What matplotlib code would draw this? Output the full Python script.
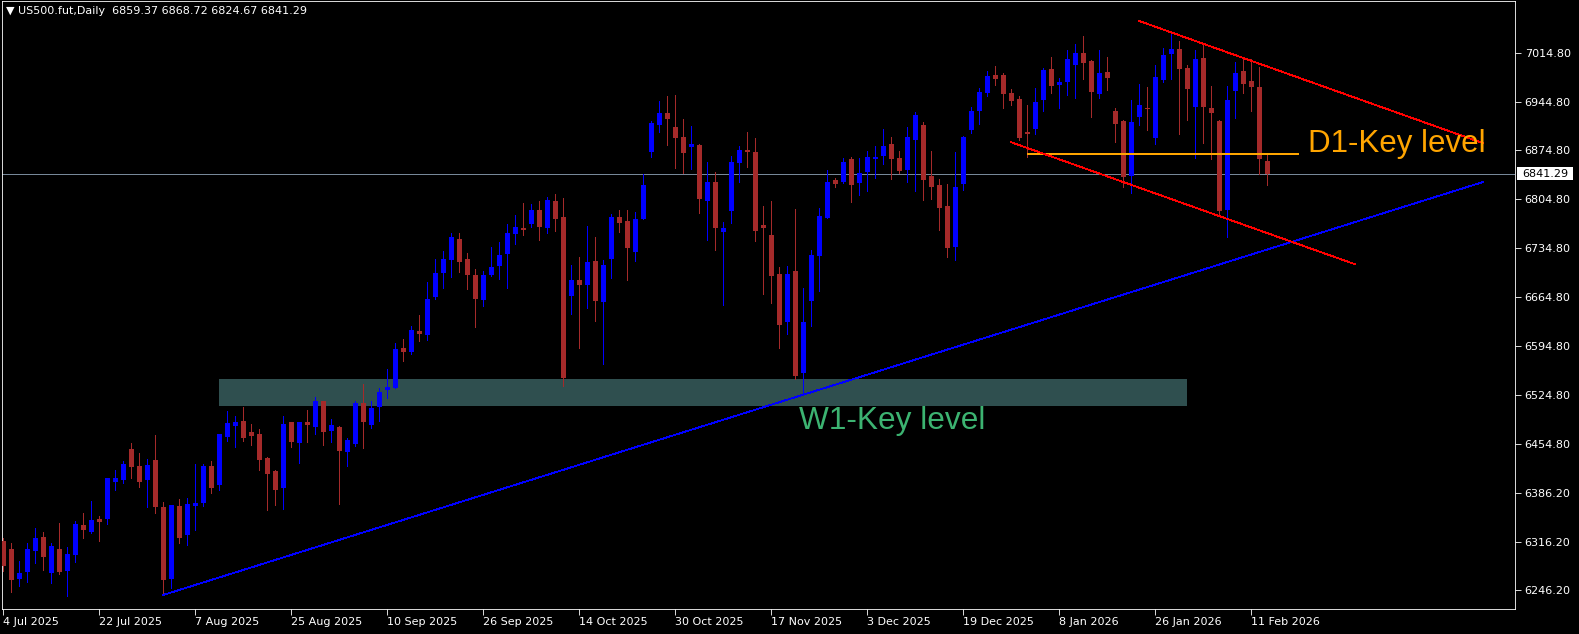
import numpy as np
import matplotlib.pyplot as plt
import matplotlib.transforms as mtransforms
from matplotlib.patches import Rectangle

plt.rcParams["font.family"] = ["DejaVu Sans"]

# US500.fut daily bars, 4 Jul 2025 .. 13 Feb 2026
opens = [
    6315.7, 6304.2, 6261.3, 6271.8, 6301.3, 6321.4, 6269.9, 6304.2, 6272.7, 6295.6,
    6338.6, 6329.0, 6347.2, 6346.7, 6400.6, 6403.5, 6447.4, 6423.0, 6403.5, 6431.6,
    6364.3, 6261.7, 6365.8, 6324.7, 6366.2, 6370.5, 6423.0, 6395.8, 6465.0, 6480.8,
    6487.4, 6471.7, 6468.8, 6434.5, 6415.9, 6392.0, 6486.0, 6456.4, 6486.0, 6479.3,
    6516.1, 6473.6, 6478.9, 6443.5, 6455.0, 6513.2, 6482.2, 6507.0, 6532.3, 6535.2,
    6591.9, 6586.7, 6616.3, 6610.5, 6664.9, 6699.3, 6718.4, 6748.0, 6719.3, 6696.4,
    6661.1, 6696.4, 6709.8, 6727.0, 6755.6, 6763.7, 6769.9, 6789.5, 6764.2, 6802.4,
    6779.5, 6666.9, 6689.3, 6682.6, 6716.5, 6658.3, 6719.3, 6779.5, 6773.7, 6729.8,
    6776.6, 6873.0, 6911.6, 6928.3, 6908.3, 6894.0, 6880.2, 6882.5, 6802.8, 6829.6,
    6758.5, 6788.5, 6857.2, 6875.4, 6872.5, 6768.0, 6753.7, 6697.9, 6629.6, 6702.2,
    6556.6, 6659.7, 6724.1, 6778.5, 6832.4, 6830.0, 6862.5, 6828.6, 6844.4, 6863.0,
    6867.3, 6884.0, 6863.9, 6847.2, 6890.2, 6911.2, 6838.2, 6825.3, 6795.2, 6737.0,
    6827.2, 6904.5, 6931.7, 6957.4, 6982.7, 6982.7, 6957.0, 6948.4, 6901.1, 6905.9,
    6947.4, 6991.3, 6968.9, 6973.2, 6997.5, 7014.2, 7002.8, 6956.0, 6987.0, 6931.2,
    6916.9, 6838.6, 6923.1, 6935.5, 6893.0, 6976.1, 7012.8, 7020.0, 6992.8, 6937.4,
    7007.1, 6935.5, 6916.9, 6790.0, 6960.3, 6988.5, 6974.1, 6965.6, 6859.37,
]
highs = [
    6319.5, 6312.8, 6287.0, 6312.8, 6334.7, 6328.5, 6312.8, 6341.4, 6307.1, 6344.3,
    6355.7, 6372.9, 6351.0, 6405.8, 6417.3, 6430.2, 6456.0, 6441.6, 6433.0, 6467.4,
    6371.5, 6367.2, 6375.8, 6377.2, 6425.9, 6425.9, 6430.2, 6468.8, 6501.8, 6494.6,
    6507.5, 6483.1, 6476.0, 6435.9, 6417.3, 6494.6, 6486.0, 6486.0, 6503.2, 6521.8,
    6516.1, 6490.3, 6480.3, 6463.1, 6516.1, 6540.4, 6516.1, 6534.7, 6561.9, 6599.1,
    6604.8, 6623.4, 6639.2, 6686.9, 6719.3, 6730.8, 6756.6, 6756.6, 6727.9, 6705.0,
    6702.2, 6736.5, 6743.7, 6769.4, 6782.3, 6799.5, 6798.1, 6802.4, 6808.1, 6812.4,
    6806.7, 6710.8, 6722.2, 6767.1, 6751.3, 6717.9, 6783.8, 6789.5, 6789.5, 6786.6,
    6841.0, 6916.9, 6945.5, 6952.7, 6954.1, 6919.8, 6909.7, 6884.0, 6858.2, 6843.9,
    6772.3, 6866.8, 6881.1, 6901.1, 6892.6, 6795.2, 6802.4, 6707.9, 6709.3, 6790.9,
    6677.8, 6732.2, 6792.4, 6846.7, 6835.3, 6863.9, 6865.4, 6863.9, 6873.9, 6881.1,
    6905.4, 6894.0, 6873.9, 6908.3, 6930.2, 6915.5, 6873.9, 6833.9, 6826.7, 6872.5,
    6895.4, 6937.0, 6964.1, 6988.5, 6995.6, 6985.6, 6962.7, 6952.7, 6939.8, 6964.1,
    6992.8, 7008.5, 6978.4, 7018.5, 7027.1, 7038.6, 7004.2, 7018.5, 7008.5, 6935.5,
    6918.3, 6946.9, 6969.9, 6965.6, 6997.0, 7021.4, 7042.9, 7031.4, 6997.0, 7018.5,
    7027.1, 6967.0, 6918.0, 6967.0, 7001.3, 7008.5, 7005.6, 6994.2, 6868.72,
]
lows = [
    6273.2, 6243.1, 6251.7, 6257.4, 6284.2, 6274.6, 6255.5, 6268.4, 6237.4, 6286.1,
    6320.4, 6327.1, 6316.1, 6340.5, 6389.1, 6399.2, 6406.3, 6393.4, 6364.3, 6356.2,
    6238.4, 6248.9, 6313.3, 6310.4, 6331.9, 6366.2, 6384.9, 6389.1, 6458.8, 6450.7,
    6459.3, 6453.6, 6417.8, 6360.5, 6367.7, 6361.9, 6450.7, 6427.8, 6457.9, 6469.3,
    6453.6, 6457.9, 6369.1, 6423.5, 6452.1, 6449.3, 6477.9, 6487.9, 6520.8, 6535.2,
    6573.8, 6583.8, 6602.4, 6603.9, 6662.1, 6678.3, 6694.1, 6701.2, 6676.9, 6622.5,
    6652.5, 6695.5, 6691.2, 6678.3, 6741.3, 6754.2, 6765.6, 6747.0, 6757.0, 6759.9,
    6538.0, 6641.1, 6592.4, 6649.7, 6631.1, 6569.5, 6692.6, 6758.5, 6689.8, 6717.0,
    6776.6, 6865.8, 6901.6, 6883.0, 6850.1, 6842.9, 6848.7, 6785.7, 6747.0, 6732.7,
    6654.0, 6771.4, 6830.0, 6851.5, 6745.6, 6669.7, 6656.8, 6592.4, 6612.5, 6547.6,
    6525.1, 6623.9, 6674.0, 6778.5, 6822.9, 6828.6, 6801.4, 6811.4, 6817.2, 6835.8,
    6855.8, 6834.3, 6842.9, 6830.0, 6817.2, 6804.3, 6805.7, 6761.3, 6722.7, 6718.4,
    6818.6, 6900.2, 6913.1, 6953.2, 6968.9, 6936.0, 6940.3, 6890.2, 6865.8, 6898.8,
    6931.7, 6957.4, 6936.0, 6954.6, 6950.3, 6977.5, 6923.1, 6950.3, 6961.7, 6887.3,
    6822.9, 6814.3, 6911.6, 6904.5, 6884.4, 6973.2, 6977.5, 6898.8, 6918.8, 6864.4,
    6885.9, 6863.0, 6782.8, 6751.3, 6921.7, 6957.4, 6931.7, 6841.5, 6824.67,
]
closes = [
    6280.4, 6260.3, 6269.9, 6304.2, 6320.4, 6293.2, 6308.5, 6271.3, 6297.1, 6340.0,
    6331.9, 6346.2, 6343.3, 6405.8, 6405.8, 6425.9, 6422.1, 6400.6, 6424.5, 6364.8,
    6260.3, 6367.2, 6320.4, 6368.6, 6370.1, 6423.0, 6392.0, 6468.8, 6484.6, 6486.0,
    6463.6, 6466.4, 6432.1, 6412.0, 6389.1, 6483.1, 6457.9, 6486.0, 6482.2, 6516.1,
    6472.2, 6481.7, 6445.0, 6460.2, 6513.2, 6486.5, 6506.1, 6529.0, 6536.1, 6590.5,
    6586.7, 6617.7, 6612.5, 6662.1, 6699.3, 6719.3, 6750.8, 6715.5, 6696.9, 6662.6,
    6696.4, 6707.9, 6725.1, 6756.6, 6765.2, 6761.3, 6789.5, 6765.6, 6803.8, 6777.1,
    6549.5, 6689.3, 6682.6, 6715.1, 6659.7, 6710.8, 6779.5, 6771.4, 6735.6, 6776.6,
    6825.3, 6914.0, 6928.3, 6920.2, 6893.0, 6871.6, 6884.0, 6805.7, 6829.6, 6764.2,
    6763.7, 6858.2, 6875.4, 6873.0, 6759.9, 6764.2, 6695.5, 6625.3, 6697.9, 6552.3,
    6629.2, 6725.1, 6780.9, 6829.6, 6827.2, 6858.2, 6825.8, 6842.5, 6865.4, 6865.4,
    6881.1, 6863.0, 6845.8, 6894.0, 6925.5, 6832.9, 6822.9, 6792.8, 6735.6, 6822.4,
    6894.0, 6931.2, 6958.4, 6981.3, 6977.5, 6956.0, 6946.0, 6893.0, 6898.8, 6944.1,
    6989.9, 6967.5, 6972.7, 7005.6, 7014.2, 7000.4, 6958.9, 6985.6, 6978.9, 6913.1,
    6837.2, 6915.5, 6939.8, 6934.5, 6979.9, 7011.4, 7020.0, 6991.8, 6963.2, 7005.6,
    6937.4, 6928.8, 6788.5, 6946.9, 6985.6, 6970.3, 6966.0, 6863.0, 6841.29,
]

# a date label every 12 bars
date_labels = ["4 Jul 2025", "22 Jul 2025", "7 Aug 2025", "25 Aug 2025", "10 Sep 2025",
               "26 Sep 2025", "14 Oct 2025", "30 Oct 2025", "17 Nov 2025", "3 Dec 2025",
               "19 Dec 2025", "8 Jan 2026", "26 Jan 2026", "11 Feb 2026"]

price_ticks = [7014.8, 6944.8, 6874.8, 6804.8, 6734.8, 6664.8, 6594.8, 6524.8,
               6454.8, 6384.8, 6314.8, 6244.8]
price_tick_labels = ["7014.80", "6944.80", "6874.80", "6804.80", "6734.80", "6664.80",
                     "6594.80", "6524.80", "6454.80", "6386.20", "6316.20", "6246.20"]

# objects drawn on the chart: (bar index, price)
w1_zone = [27, 148, 6509.3, 6547.6]        # from bar, to bar, low, high
d1_level = [128, 162, 6870.1]              # from bar, to bar, price
trend_line = [(20, 6238.4), (185, 6829.7)]
channel_top = [(142, 7060.0), (185, 6885.0)]
channel_bottom = [(126, 6886.4), (169, 6711.7)]
w1_text_pos = (99.4, 6476.0)
d1_text_pos = (163.1, 6873.0)

o = np.array(opens)
h = np.array(highs)
l = np.array(lows)
c = np.array(closes)
x = np.arange(len(o))

W, H = 1579, 634
fig = plt.figure(figsize=(W / 100, H / 100), dpi=100, facecolor="black")
ax = fig.add_axes([2 / W, 25 / H, 1513 / W, 608 / H], facecolor="black")
ax.set_xlim(-0.16, 188.96)
ax.set_ylim(6218.3, 7088.7)
px = (7088.7 - 6218.3) / 608  # price per pixel
lw1 = 0.6  # one pixel

# candles
col = np.where(c >= o, "#0000FF", "#A52A2A")
ax.vlines(x, l, h, colors=col, linewidth=lw1, antialiased=False, zorder=3)
body_lo = np.minimum(o, c)
body_h = np.maximum(np.abs(c - o), px)
ax.bar(x, body_h, bottom=body_lo, width=0.62, color=col, linewidth=0,
       antialiased=False, zorder=4)

# W1 zone
ax.add_patch(Rectangle((w1_zone[0], w1_zone[2]), w1_zone[1] - w1_zone[0],
                       w1_zone[3] - w1_zone[2], fc="#2F4F4F", ec="none", zorder=1))
ax.text(w1_text_pos[0], w1_text_pos[1], "W1-Key level", color="#3CB371", fontsize=22.8,
        family=["Liberation Sans", "DejaVu Sans"], ha="left", va="baseline", zorder=6)

# D1 level
ax.hlines(d1_level[2], d1_level[0], d1_level[1], color="#FFA500", linewidth=1.44,
          antialiased=False, zorder=5)
ax.text(d1_text_pos[0], d1_text_pos[1], "D1-Key level", color="#FFA500", fontsize=22.5,
        family=["Liberation Sans", "DejaVu Sans"], ha="left", va="baseline", zorder=6)

# trend line and channel
for pts, colr in [(trend_line, "#0000FF"), (channel_top, "#FF0000"), (channel_bottom, "#FF0000")]:
    ax.plot([pts[0][0], pts[1][0]], [pts[0][1], pts[1][1]], color=colr,
            linewidth=lw1, antialiased=False, zorder=5)

# current price line + label
last_price = closes[-1]
ax.axhline(last_price, color="#778899", linewidth=lw1, antialiased=False, zorder=2)
trans = mtransforms.blended_transform_factory(ax.transAxes, ax.transData)
ax.add_patch(Rectangle((1 + 2 / 1513, last_price - 6.5 * px), 56 / 1513, 13 * px,
                       transform=trans, fc="white", ec="none", clip_on=False, zorder=7))
ax.text(1 + 7 / 1513, last_price, "%.2f" % last_price, transform=trans, color="black",
        fontsize=8, ha="left", va="center", clip_on=False, zorder=8)

# axes look
for s in ax.spines.values():
    s.set_color("white")
    s.set_linewidth(lw1)
ax.set_xticks(x[::12])
ax.set_xticklabels(date_labels, ha="left")
ax.tick_params(axis="x", colors="white", length=4, width=lw1, pad=2, labelsize=8)
ax.yaxis.tick_right()
ax.set_yticks(price_ticks)
ax.set_yticklabels(price_tick_labels)
ax.tick_params(axis="y", colors="white", length=4, width=lw1, pad=3, labelsize=8)

title = "\u25bc US500.fut,Daily  %.2f %.2f %.2f %.2f" % (opens[-1], highs[-1], lows[-1], closes[-1])
fig.text(6 / W, 1 - 11 / H, title, color="white", fontsize=8, ha="left", va="center")

fig.savefig("out.png", dpi=100, facecolor="black")
